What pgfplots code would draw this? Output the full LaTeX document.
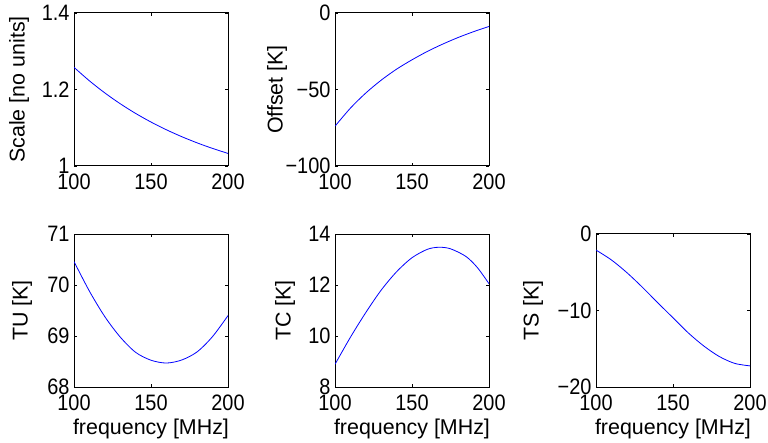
\documentclass[border=0pt]{standalone}
\usepackage{fontspec}
\setmainfont{Liberation Sans}
\usepackage{graphicx}
\usepackage{pgfplots}
\pgfplotsset{compat=1.18}

% tick digits in the reference are a little taller than Arial
\newcommand{\tl}[1]{\scalebox{1}[1.12]{#1}}

\pgfplotsset{
  mat/.style={
    scale only axis, width=154bp, height=153bp,
    xmin=100, xmax=200,
    xtick={100,150,200}, xticklabels={\tl{100},\tl{150},\tl{200}},
    tick align=inside, major tick length=3bp,
    axis line style={line width=1bp},
    every tick/.style={black, line width=0.6bp},
    tick label style={font=\fontsize{20}{20}\selectfont},
    xticklabel style={yshift=-4bp},
    yticklabel style={xshift=-1bp},
    label style={font=\fontsize{21.5}{21.5}\selectfont},
    ylabel style={at={(axis description cs:0,0.5)}, anchor=center},
    xlabel style={at={(axis description cs:0.5,0)}, anchor=center, yshift=-42bp},
    anchor=south west,
  },
  curve/.style={blue, line width=0.8bp, smooth, no marks},
}

\begin{document}
\begin{tikzpicture}
\path[use as bounding box] (0,0) rectangle (768bp,443bp);

% Scale
\begin{axis}[mat, at={(74bp,277bp)},
  ymin=1, ymax=1.4, ytick={1,1.2,1.4}, yticklabels={\tl{1},\tl{1.2},\tl{1.4}},
  ylabel={Scale [no units]}, ylabel style={yshift=55bp}]
\addplot[curve] coordinates {
(100,1.2580) (110,1.2227) (120,1.1911) (130,1.1628) (140,1.1375) (150,1.1149)
(160,1.0947) (170,1.0766) (180,1.0604) (190,1.0459) (200,1.0329)};
\end{axis}

% Offset
\begin{axis}[mat, at={(335bp,277bp)},
  ymin=-100, ymax=0, ytick={-100,-50,0}, yticklabels={\tl{−100},\tl{−50},\tl{0}},
  ylabel={Offset [K]}, ylabel style={yshift=58bp}]
\addplot[curve] coordinates {
(100,-74.0) (110,-62.2) (120,-52.3) (130,-43.9) (140,-36.7) (150,-30.6)
(160,-25.1) (170,-20.3) (180,-16.0) (190,-12.2) (200,-8.8)};
\end{axis}

% TU
\begin{axis}[mat, at={(74bp,56bp)},
  ymin=68, ymax=71, ytick={68,69,70,71}, yticklabels={\tl{68},\tl{69},\tl{70},\tl{71}},
  ylabel={TU [K]}, ylabel style={yshift=52bp},
  xlabel={frequency [MHz]}]
\addplot[curve] coordinates {
(100,70.46) (110,69.88) (120,69.38) (130,68.98) (140,68.68) (150,68.525)
(160,68.47) (170,68.53) (180,68.69) (190,68.99) (200,69.40)};
\end{axis}

% TC
\begin{axis}[mat, at={(335bp,56bp)},
  ymin=8, ymax=14, ytick={8,10,12,14}, yticklabels={\tl{8},\tl{10},\tl{12},\tl{14}},
  ylabel={TC [K]}, ylabel style={yshift=50bp},
  xlabel={frequency [MHz]}]
\addplot[curve] coordinates {
(100,8.89) (110,9.95) (120,10.92) (130,11.80) (140,12.52) (150,13.07)
(160,13.40) (167.5,13.48) (175,13.42) (185,13.12) (192.5,12.68) (200,12.05)};
\end{axis}

% TS
\begin{axis}[mat, at={(596bp,56bp)},
  ymin=-20, ymax=0, ytick={-20,-10,0}, yticklabels={\tl{−20},\tl{−10},\tl{0}},
  ylabel={TS [K]}, ylabel style={yshift=63bp},
  xlabel={frequency [MHz]}]
\addplot[curve] coordinates {
(100,-2.10) (110,-3.39) (120,-5.04) (130,-6.94) (140,-8.97) (150,-10.95)
(160,-12.94) (170,-14.64) (180,-16.01) (190,-16.91) (200,-17.24)};
\end{axis}
\end{tikzpicture}
\end{document}
